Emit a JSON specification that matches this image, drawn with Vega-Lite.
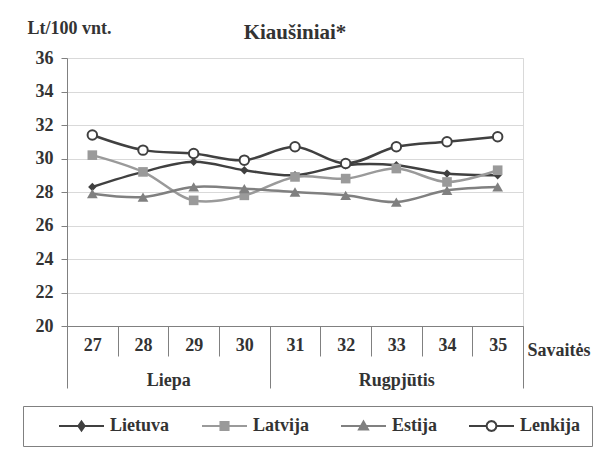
{
  "$schema": "https://vega.github.io/schema/vega-lite/v6.json",
  "width": 456,
  "height": 268,
  "autosize": "none",
  "padding": {"left": 67, "top": 58, "right": 91, "bottom": 129},
  "background": "white",
  "title": {
    "text": "Kiaušiniai*",
    "font": "Liberation Serif",
    "fontSize": 21,
    "fontWeight": "bold",
    "color": "#333333",
    "anchor": "middle",
    "frame": "group",
    "offset": -24
  },
  "config": {
    "view": {"stroke": "#d9d9d9"},
    "axis": {
      "labelFont": "Liberation Serif",
      "labelFontSize": 18,
      "labelFontWeight": "bold",
      "labelColor": "#333333",
      "titleFont": "Liberation Serif",
      "titleFontSize": 18,
      "titleFontWeight": "bold",
      "titleColor": "#333333",
      "domainColor": "#808080",
      "tickColor": "#808080",
      "gridColor": "#d9d9d9"
    },
    "legend": {
      "labelFont": "Liberation Serif",
      "labelFontSize": 18,
      "labelFontWeight": "bold",
      "labelColor": "#333333",
      "titleFont": "Liberation Serif"
    }
  },
  "data": {
    "values": [
      {"week": 27, "country": "Lietuva", "price": 28.3},
      {"week": 28, "country": "Lietuva", "price": 29.2},
      {"week": 29, "country": "Lietuva", "price": 29.8},
      {"week": 30, "country": "Lietuva", "price": 29.3},
      {"week": 31, "country": "Lietuva", "price": 29.0},
      {"week": 32, "country": "Lietuva", "price": 29.6},
      {"week": 33, "country": "Lietuva", "price": 29.6},
      {"week": 34, "country": "Lietuva", "price": 29.1},
      {"week": 35, "country": "Lietuva", "price": 29.0},
      {"week": 27, "country": "Latvija", "price": 30.2},
      {"week": 28, "country": "Latvija", "price": 29.2},
      {"week": 29, "country": "Latvija", "price": 27.5},
      {"week": 30, "country": "Latvija", "price": 27.8},
      {"week": 31, "country": "Latvija", "price": 28.9},
      {"week": 32, "country": "Latvija", "price": 28.8},
      {"week": 33, "country": "Latvija", "price": 29.4},
      {"week": 34, "country": "Latvija", "price": 28.6},
      {"week": 35, "country": "Latvija", "price": 29.3},
      {"week": 27, "country": "Estija", "price": 27.9},
      {"week": 28, "country": "Estija", "price": 27.7},
      {"week": 29, "country": "Estija", "price": 28.3},
      {"week": 30, "country": "Estija", "price": 28.2},
      {"week": 31, "country": "Estija", "price": 28.0},
      {"week": 32, "country": "Estija", "price": 27.8},
      {"week": 33, "country": "Estija", "price": 27.4},
      {"week": 34, "country": "Estija", "price": 28.1},
      {"week": 35, "country": "Estija", "price": 28.3},
      {"week": 27, "country": "Lenkija", "price": 31.4},
      {"week": 28, "country": "Lenkija", "price": 30.5},
      {"week": 29, "country": "Lenkija", "price": 30.3},
      {"week": 30, "country": "Lenkija", "price": 29.9},
      {"week": 31, "country": "Lenkija", "price": 30.7},
      {"week": 32, "country": "Lenkija", "price": 29.7},
      {"week": 33, "country": "Lenkija", "price": 30.7},
      {"week": 34, "country": "Lenkija", "price": 31.0},
      {"week": 35, "country": "Lenkija", "price": 31.3}
    ]
  },
  "encoding": {
    "y": {
      "field": "price",
      "type": "quantitative",
      "scale": {"domain": [20, 36], "nice": false, "zero": false},
      "axis": {
        "values": [20, 22, 24, 26, 28, 30, 32, 34, 36],
        "grid": true,
        "tickSize": 6,
        "labelPadding": 8,
        "title": "Lt/100 vnt.",
        "titleAngle": 0,
        "titleAlign": "left",
        "titleBaseline": "middle",
        "titleX": -40,
        "titleY": -30
      }
    }
  },
  "resolve": {"axis": {"x": "independent"}},
  "layer": [
    {
      "mark": {"type": "line", "interpolate": "catmull-rom", "strokeWidth": 2.5},
      "encoding": {
        "x": {
          "field": "week",
          "type": "quantitative",
          "scale": {"domain": [26.5, 35.5], "nice": false, "zero": false},
          "axis": {
            "orient": "bottom",
            "values": [27, 28, 29, 30, 31, 32, 33, 34, 35],
            "grid": false,
            "ticks": false,
            "labelPadding": 10,
            "labelFlush": false,
            "labelOverlap": false,
            "title": "Savaitės",
            "titleX": 460,
            "titleY": 24,
            "titleAlign": "left",
            "titleBaseline": "middle"
          }
        },
        "color": {
          "field": "country",
          "type": "nominal",
          "scale": {
            "domain": ["Lietuva", "Latvija", "Estija", "Lenkija"],
            "range": ["#404040", "#9a9a9a", "#808080", "#404040"]
          },
          "legend": {
            "orient": "none",
            "legendX": -44,
            "legendY": 348,
            "direction": "horizontal",
            "title": " ",
            "titleOrient": "left",
            "titlePadding": 24,
            "titleFontSize": 18,
            "padding": 11,
            "strokeColor": "#808080",
            "columnPadding": 31,
            "symbolSize": 2025,
            "symbolStrokeWidth": 2,
            "clipHeight": 18,
            "labelOffset": 5,
            "encode": {
              "symbols": {
                "update": {
                  "shape": {"signal": "datum.value === 'Lietuva' ? 'M-1,0H1M0,-0.2L0.14,0L0,0.2L-0.14,0Z' : datum.value === 'Latvija' ? 'M-1,0H1M-0.18,-0.18H0.18V0.18H-0.18Z' : datum.value === 'Estija' ? 'M-1,0H1M0,-0.2L0.2,0.15H-0.2Z' : 'M-1,0H-0.22M0.22,0H1M0.22,0L0.19,0.11L0.11,0.19L0,0.22L-0.11,0.19L-0.19,0.11L-0.22,0L-0.19,-0.11L-0.11,-0.19L0,-0.22L0.11,-0.19L0.19,-0.11Z'"},
                  "fill": {"signal": "scale('color', datum.value)"},
                  "fillOpacity": {"signal": "datum.value === 'Lenkija' ? 0 : 1"},
                  "stroke": {"signal": "scale('color', datum.value)"},
                  "strokeWidth": {"value": 2},
                  "opacity": {"value": 1}
                }
              }
            }
          }
        }
      }
    },
    {
      "transform": [{"filter": "datum.country !== 'Lenkija'"}],
      "mark": {"type": "point", "filled": true, "opacity": 1},
      "encoding": {
        "x": {
          "field": "week",
          "type": "quantitative",
          "axis": {
            "orient": "bottom",
            "values": [26.5, 27.5, 28.5, 29.5, 30.5, 31.5, 32.5, 33.5, 34.5, 35.5],
            "grid": false,
            "labels": false,
            "domain": false,
            "ticks": true,
            "tickSize": 30,
            "title": null
          }
        },
        "color": {"field": "country", "type": "nominal", "legend": null},
        "shape": {
          "field": "country",
          "type": "nominal",
          "scale": {"domain": ["Lietuva", "Latvija", "Estija"], "range": ["diamond", "square", "triangle-up"]},
          "legend": null
        },
        "size": {
          "field": "country",
          "type": "nominal",
          "scale": {"domain": ["Lietuva", "Latvija", "Estija"], "range": [70, 115, 120]},
          "legend": null
        }
      }
    },
    {
      "transform": [{"filter": "datum.country === 'Lenkija'"}],
      "mark": {"type": "point", "shape": "circle", "filled": true, "fill": "#ffffff", "stroke": "#404040", "strokeWidth": 2, "size": 90, "opacity": 1},
      "encoding": {
        "x": {
          "field": "week",
          "type": "quantitative",
          "axis": {
            "orient": "bottom",
            "values": [26.5, 28.5, 30.5, 33, 35.5],
            "grid": false,
            "domain": false,
            "tickSize": 62,
            "tickOpacity": {"condition": {"test": "datum.value == 28.5 || datum.value == 33", "value": 0}, "value": 1},
            "labelPadding": -17,
            "labelFlush": false,
            "labelOverlap": false,
            "labelExpr": "datum.value == 28.5 ? 'Liepa' : datum.value == 33 ? 'Rugpjūtis' : ''",
            "title": null
          }
        }
      }
    }
  ]
}
